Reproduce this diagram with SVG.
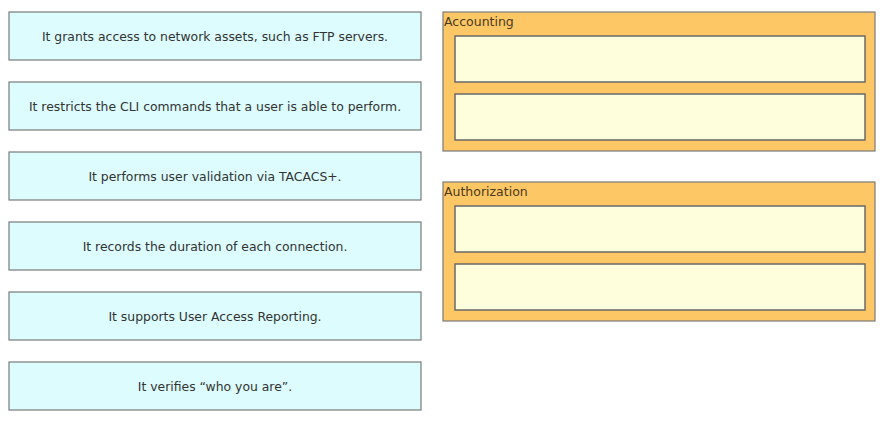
<svg xmlns="http://www.w3.org/2000/svg" width="885" height="426" viewBox="0 0 885 426">
<style>
.opt{fill:#dcfcfd;stroke:#7a7a7a;stroke-width:1.2}
.grp{fill:#fdc766;stroke:#7a7a7a;stroke-width:1.2}
.slot{fill:#fefedd;stroke:#6a6a6a;stroke-width:1.5}
text{font-family:"DejaVu Sans",sans-serif;font-size:12.4px;fill:#333}
.t{text-anchor:middle}
.h{fill:#4a3a20;font-size:12.5px}
</style>
<rect width="885" height="426" fill="#fff"/>
<g id="opt1"><rect class="opt" x="9" y="12" width="412" height="48"/><text class="t" x="215" y="41">It grants access to network assets, such as FTP servers.</text></g>
<g id="opt2"><rect class="opt" x="9" y="82" width="412" height="48"/><text class="t" x="215" y="111">It restricts the CLI commands that a user is able to perform.</text></g>
<g id="opt3"><rect class="opt" x="9" y="152" width="412" height="48"/><text class="t" x="215" y="181">It performs user validation via TACACS+.</text></g>
<g id="opt4"><rect class="opt" x="9" y="222" width="412" height="48"/><text class="t" x="215" y="251">It records the duration of each connection.</text></g>
<g id="opt5"><rect class="opt" x="9" y="292" width="412" height="48"/><text class="t" x="215" y="321">It supports User Access Reporting.</text></g>
<g id="opt6"><rect class="opt" x="9" y="362" width="412" height="48"/><text class="t" x="215" y="391">It verifies “who you are”.</text></g>
<g id="accounting"><rect class="grp" x="443" y="12" width="432" height="139"/><text class="h" x="444" y="26">Accounting</text>
<rect class="slot" x="455" y="36" width="410" height="46"/><rect class="slot" x="455" y="94" width="410" height="46"/></g>
<g id="authorization"><rect class="grp" x="443" y="182" width="432" height="139"/><text class="h" x="444" y="196">Authorization</text>
<rect class="slot" x="455" y="206" width="410" height="46"/><rect class="slot" x="455" y="264" width="410" height="46"/></g>
<g id="connectors"/>
</svg>
